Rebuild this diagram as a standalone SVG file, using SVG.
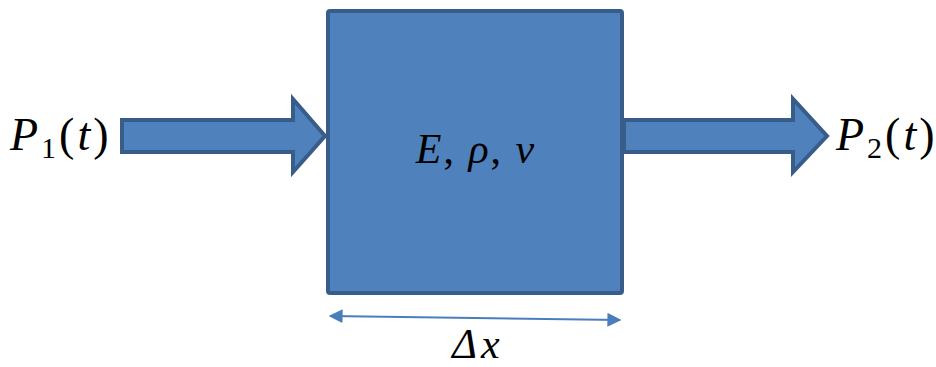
<svg xmlns="http://www.w3.org/2000/svg" width="936" height="367" viewBox="0 0 936 367">
<style>
.shape{fill:#4F81BD;stroke:#385D8A;stroke-width:4;stroke-linejoin:miter}
.math{font-family:"Liberation Serif","DejaVu Serif",serif;font-style:italic;fill:#000}
.sub{font-family:"Liberation Serif","DejaVu Serif",serif;font-style:normal}
.up{font-style:normal}
</style>
<defs>
<marker id="ah" viewBox="0 0 10 10" refX="9" refY="5" markerWidth="7" markerHeight="7" orient="auto-start-reverse" markerUnits="strokeWidth">
<path d="M0,0 L10,5 L0,10 z" fill="#4A7EBB"/>
</marker>
</defs>
<g id="block">
<rect class="shape" x="328" y="11" width="294" height="282" rx="2"/>
<text class="math" x="476" y="163" font-size="42" letter-spacing="2" text-anchor="middle">E<tspan class="up">, </tspan>ρ<tspan class="up">, </tspan>ν</text>
</g>
<g id="input">
<path class="shape" d="M122,120 L293,120 L293,99 L325,136 L293,172 L293,152 L122,152 Z"/>
<text class="math" x="10" y="150" font-size="46" letter-spacing="3">P<tspan class="sub" font-size="30" dy="8">1</tspan><tspan class="up" dy="-8">(</tspan>t<tspan class="up">)</tspan></text>
</g>
<g id="output">
<path class="shape" d="M624,120 L793,120 L793,99 L827,136 L793,172 L793,152 L624,152 Z"/>
<text class="math" x="836" y="150" font-size="46" letter-spacing="3">P<tspan class="sub" font-size="30" dy="8">2</tspan><tspan class="up" dy="-8">(</tspan>t<tspan class="up">)</tspan></text>
</g>
<g id="connectors">
<line x1="330" y1="316" x2="620" y2="320" stroke="#4A7EBB" stroke-width="2" marker-start="url(#ah)" marker-end="url(#ah)"/>
</g>
<text class="math" x="478" y="358" font-size="42" letter-spacing="4" text-anchor="middle">Δx</text>
</svg>
